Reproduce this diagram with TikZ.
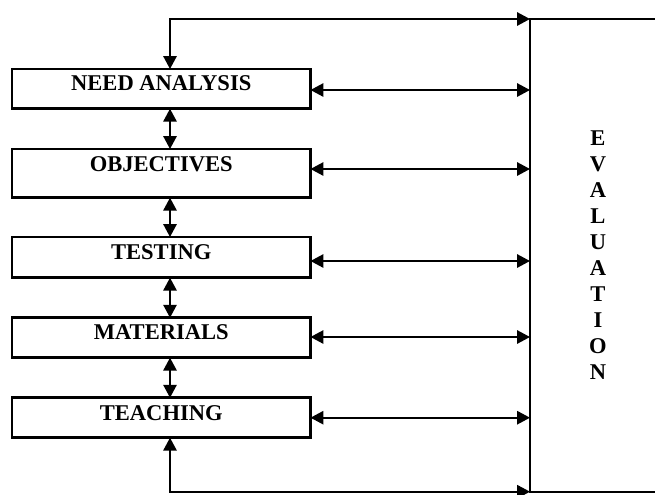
\documentclass[tikz,border=0pt]{standalone}
\usepackage{fontspec}
\setmainfont{Liberation Serif}
\usetikzlibrary{arrows.meta,calc}
\begin{document}
\begin{tikzpicture}[x=0.75pt,y=-0.75pt,
  box/.style={draw,line width=1.9pt,inner sep=0pt,outer sep=0pt,minimum width=298.5*0.75pt},
  lbl/.style={anchor=base,inner sep=0pt,font=\bfseries\fontsize{16.9pt}{19.5pt}\selectfont},
  dbl/.style={{Triangle[length=9.7pt,width=10pt]}-{Triangle[length=9.7pt,width=10pt]},line width=1.4pt},
  evbox/.style={draw,line width=1.3pt,inner sep=0pt,outer sep=0pt,minimum width=136*0.75pt,minimum height=472.7*0.75pt,align=center,font=\bfseries\fontsize{16.9pt}{19.5pt}\selectfont}]
\fill[white] (0,0) rectangle (655,494);
\useasboundingbox (0,0) rectangle (655,494);
% boxes
\node[box,minimum height=39.7*0.75pt] (na) at (161.25,88.85) {};
\node[box,minimum height=48.7*0.75pt] (obj) at (161.25,173.35) {};
\node[box,minimum height=40.7*0.75pt] (test) at (161.25,257.35) {};
\node[box,minimum height=40*0.75pt] (mat) at (161.25,337.7) {};
\node[box,minimum height=40*0.75pt] (teach) at (161.25,417.7) {};
% labels
\node[lbl] (tna) at (161.25,90) {NEED ANALYSIS};
\node[lbl] (tobj) at (161.25,171) {OBJECTIVES};
\node[lbl] (ttest) at (161.25,259) {TESTING};
\node[lbl] (tmat) at (161.25,339) {MATERIALS};
\node[lbl] (tteach) at (161.25,420) {TEACHING};
% evaluation
\node[evbox] (ev) at (598,255.35) {E\\V\\A\\L\\U\\A\\T\\I\\O\\N};
% helper coordinates
\coordinate (ax) at (170,0);
\coordinate (h1) at ($(na.east)+(0,1.15)$);
\coordinate (h2) at ($(obj.east)+(0,-4.35)$);
\coordinate (h3) at ($(test.east)+(0,3.65)$);
\coordinate (h4) at ($(mat.east)+(0,-0.7)$);
\coordinate (h5) at (teach.east);
% vertical connectors
\draw[dbl] (na.south -| ax) -- (obj.north -| ax);
\draw[dbl] (obj.south -| ax) -- (test.north -| ax);
\draw[dbl] (test.south -| ax) -- (mat.north -| ax);
\draw[dbl] (mat.south -| ax) -- (teach.north -| ax);
% horizontal connectors
\draw[dbl] (h1) -- (h1 -| ev.west);
\draw[dbl] (h2) -- (h2 -| ev.west);
\draw[dbl] (h3) -- (h3 -| ev.west);
\draw[dbl] (h4) -- (h4 -| ev.west);
\draw[dbl] (h5) -- (h5 -| ev.west);
% loop connectors
\draw[dbl] (na.north -| ax) |- (ev.north west);
\draw[dbl] (teach.south -| ax) |- (ev.south west);
\end{tikzpicture}
\end{document}
